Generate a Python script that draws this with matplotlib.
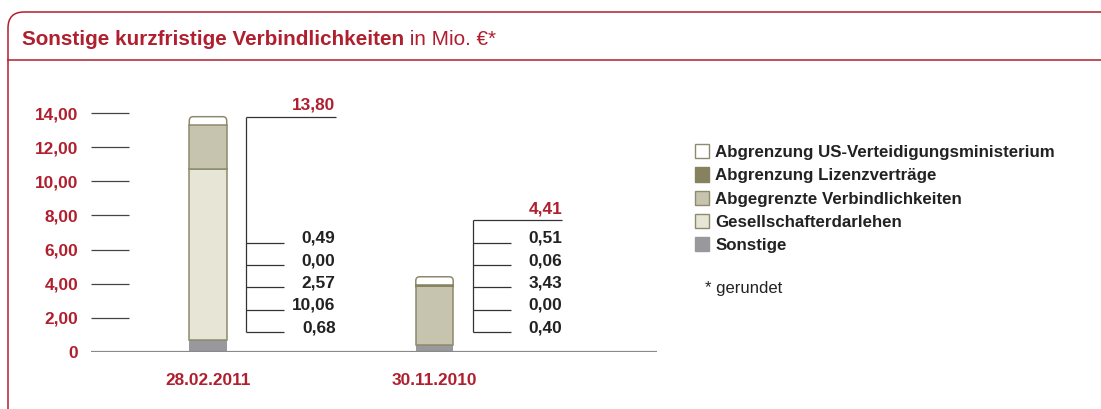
import matplotlib.pyplot as plt
import numpy as np
from matplotlib.patches import FancyBboxPatch, Patch

plt.rcParams['font.family'] = ['Liberation Sans', 'DejaVu Sans']

# data (Mio. EUR, gerundet)
dates = ['28.02.2011', '30.11.2010']
categories = ['Sonstige', 'Gesellschafterdarlehen', 'Abgegrenzte Verbindlichkeiten',
              'Abgrenzung Lizenzverträge', 'Abgrenzung US-Verteidigungsministerium']
sonstige = [0.68, 0.40]
gesellschafter = [10.06, 0.00]
abgegrenzt = [2.57, 3.43]
lizenz = [0.00, 0.06]
us_vm = [0.49, 0.51]
totals = [13.80, 4.41]
yticks = [0, 2, 4, 6, 8, 10, 12, 14]
ytick_labels = ['0', '2,00', '4,00', '6,00', '8,00', '10,00', '12,00', '14,00']

RED = '#b01f2e'
DARK = '#222222'
EDGE = '#8e8a6c'
fills = ['#98989d', '#e7e5d5', '#c6c3af', '#86815f', '#ffffff']
edges = ['#98989d', EDGE, EDGE, '#86815f', EDGE]

def fmt(v):
    return ('%.2f' % v).replace('.', ',')

W, H = 1101, 409
fig = plt.figure(figsize=(W / 100, H / 100), dpi=100)

# frame + title (pixel coordinates)
bg = fig.add_axes([0, 0, 1, 1])
bg.set_xlim(0, W)
bg.set_ylim(H, 0)
bg.axis('off')
bg.add_patch(FancyBboxPatch((8, 12), 1300, 600, boxstyle='round,pad=0,rounding_size=16',
                            fc='none', ec=RED, lw=1.1))
bg.plot([8, W], [60, 60], color=RED, lw=1.1)
t1 = bg.text(22, 45, 'Sonstige kurzfristige Verbindlichkeiten', color=RED,
             fontsize=14.9, fontweight='bold', va='baseline')
bg.annotate(' in Mio. €*', xy=(1, 0), xycoords=t1, color=RED, fontsize=14.9, va='bottom')
bg.text(705, 288, '* gerundet', color=DARK, fontsize=12, va='center')

# chart
left_px, right_px, base_px, top_px = 90.7, 657, 351.7, 100
ax = fig.add_axes([left_px / W, (H - base_px) / H, (right_px - left_px) / W, (base_px - top_px) / H])
ax.patch.set_alpha(0)
ppu_y = 17.03
ppu_x = 226.5
ax.set_ylim(0, (base_px - top_px) / ppu_y)
ax.set_xlim((left_px - 208) / ppu_x, (right_px - 208) / ppu_x)
for s in ax.spines.values():
    s.set_visible(False)

x = np.arange(len(dates))
bw = 37.4 / ppu_x
series = [sonstige, gesellschafter, abgegrenzt, lizenz, us_vm]
bottom = np.zeros(len(dates))
for k, vals in enumerate(series):
    vals = np.array(vals)
    m = vals > 0
    if k == len(series) - 1:
        # rounded top segment
        rx = 4 / ppu_x
        ry = 4 / ppu_y
        for xi, b, v in zip(x[m], bottom[m], vals[m]):
            ax.add_patch(FancyBboxPatch((xi - bw / 2, b - ry), bw, v + ry,
                                        boxstyle='round,pad=0,rounding_size=%f' % rx,
                                        mutation_aspect=ppu_x / ppu_y,
                                        fc=fills[k], ec=edges[k], lw=1.1, zorder=1))
    else:
        ax.bar(x[m], vals[m], bw, bottom=bottom[m], color=fills[k], edgecolor=edges[k],
               linewidth=1.1 if k > 0 else 0, zorder=2)
    bottom += vals

ax.axhline(0, color='#8a8a8a', lw=1.6, zorder=3)

ax.set_yticks(yticks)
ax.set_yticklabels(ytick_labels)
ax.tick_params(axis='y', direction='in', length=27.4, width=0.9, color='#444444', pad=9,
               labelsize=12.4, labelcolor=RED)
ax.yaxis.get_major_ticks()[0].tick1line.set_visible(False)
for lab in ax.get_yticklabels():
    lab.set_fontweight('bold')
ax.set_xticks(x)
ax.set_xticklabels(dates)
ax.tick_params(axis='x', length=0, pad=15, labelsize=12.4, labelcolor=RED)
for lab in ax.get_xticklabels():
    lab.set_fontweight('bold')

# value brackets
slot0, slot_step = 1.13, 1.32
slots = slot0 + slot_step * np.arange(len(series))
for i, xi in enumerate(x):
    x0, x1, x2 = xi + 0.168, xi + 0.336, xi + 0.563
    top = max(totals[i], slots[-1] + slot_step)
    ax.vlines(x0, slots[0], top, color='#333333', lw=0.9)
    ax.hlines(slots, x0, x1, color='#333333', lw=0.9)
    ax.hlines(top, x0, x2, color='#333333', lw=0.9)
    for sy, vals in zip(slots, series):
        ax.text(x2, sy, fmt(vals[i]), ha='right', va='baseline', fontsize=12.4,
                fontweight='bold', color=DARK)
    ax.annotate(fmt(totals[i]), xy=(x2, top), xytext=(0, 5), textcoords='offset points',
                ha='right', va='baseline', fontsize=12.4, fontweight='bold', color=RED)

# legend
handles = [Patch(facecolor=fills[k], edgecolor=edges[k], linewidth=1.0, label=categories[k])
           for k in range(len(categories))][::-1]
leg = fig.legend(handles=handles, loc='upper left', bbox_to_anchor=(695 / W, 1 - 144 / H),
                 frameon=False, borderpad=0, borderaxespad=0, fontsize=12.2,
                 handlelength=0.84, handleheight=0.92, handletextpad=0.35, labelspacing=0.43)
for t in leg.get_texts():
    t.set_fontweight('bold')
    t.set_color(DARK)

fig.savefig('out.png', dpi=100)
